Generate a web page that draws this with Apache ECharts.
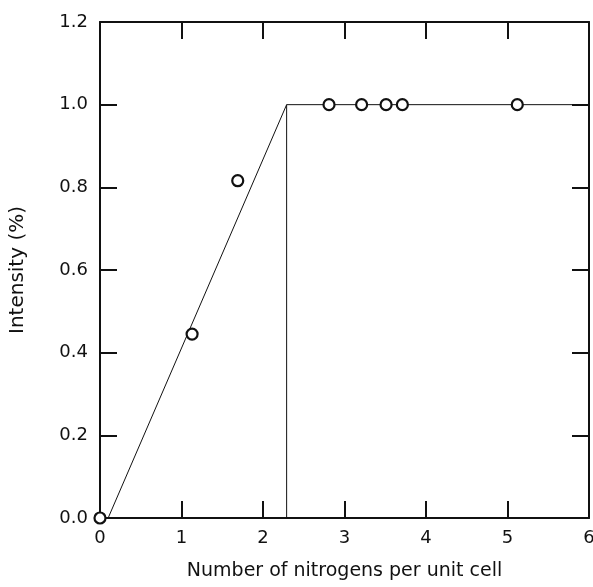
<!DOCTYPE html>
<html lang="en">
<head>
  <meta charset="UTF-8">
  <title>Intensity vs nitrogens</title>
  <style>
    html, body { margin: 0; padding: 0; background: #fff; }
    #main { width: 593px; height: 587px; }
  </style>
</head>
<body>
<div id="main"></div>
<script src="https://cdn.jsdelivr.net/npm/echarts@6/dist/echarts.min.js"></script>
<script>
  // measured points
  var pointX = [0, 1.13, 1.69, 2.81, 3.21, 3.51, 3.71, 5.12];
  var pointY = [0, 0.445, 0.816, 1.0, 1.0, 1.0, 1.0, 1.0];
  // fitted lines (rise then plateau, with a drop line at the break)
  var riseX = [0.1, 2.29, 6];
  var riseY = [0, 1.0, 1.0];
  var dropX = [2.29, 2.29];
  var dropY = [1.0, 0];

  var xTitle = 'Number of nitrogens per unit cell';
  var yTitle = 'Intensity (%)';

  function pairs(xs, ys) {
    var out = [];
    for (var i = 0; i < xs.length; i++) out.push([xs[i], ys[i]]);
    return out;
  }

  var font = 'DejaVu Sans';
  var black = '#111';
  var tick = { show: true, inside: true, length: 17, lineStyle: { color: black, width: 2 } };
  var line = { show: true, onZero: false, lineStyle: { color: black, width: 2 } };

  var chart = echarts.init(document.getElementById('main'));
  chart.setOption({
    animation: false,
    backgroundColor: '#fff',
    grid: { left: 100, right: 4, top: 22, bottom: 69, outerBoundsMode: 'none', containLabel: false },
    xAxis: [
      {
        type: 'value', min: 0, max: 6, interval: 1, position: 'bottom',
        axisLine: line, axisTick: tick, splitLine: { show: false },
        axisLabel: { color: black, fontFamily: font, fontSize: 18, margin: 11 },
        name: xTitle, nameLocation: 'middle', nameGap: 44,
        nameTextStyle: { color: black, fontFamily: font, fontSize: 19 }
      },
      {
        type: 'value', min: 0, max: 6, interval: 1, position: 'top',
        axisLine: line, axisTick: tick, splitLine: { show: false },
        axisLabel: { show: false }
      }
    ],
    yAxis: [
      {
        type: 'value', min: 0, max: 1.2, interval: 0.2, position: 'left',
        axisLine: line, axisTick: tick, splitLine: { show: false },
        axisLabel: {
          color: black, fontFamily: font, fontSize: 18, margin: 12,
          formatter: function (v) { return v.toFixed(1); }
        },
        name: yTitle, nameLocation: 'middle', nameGap: 72,
        nameTextStyle: { color: black, fontFamily: font, fontSize: 20 }
      },
      {
        type: 'value', min: 0, max: 1.2, interval: 0.2, position: 'right',
        axisLine: line, axisTick: tick, splitLine: { show: false },
        axisLabel: { show: false }
      }
    ],
    series: [
      {
        type: 'line', data: pairs(riseX, riseY), showSymbol: false, symbol: 'none',
        lineStyle: { color: black, width: 1 }, z: 2
      },
      {
        type: 'line', data: pairs(dropX, dropY), showSymbol: false, symbol: 'none',
        lineStyle: { color: black, width: 1 }, z: 2
      },
      {
        type: 'scatter', data: pairs(pointX, pointY), symbol: 'circle', symbolSize: 11,
        itemStyle: { color: '#fff', borderColor: black, borderWidth: 2.2, opacity: 1 },
        clip: false, z: 5
      }
    ]
  });
</script>
</body>
</html>
